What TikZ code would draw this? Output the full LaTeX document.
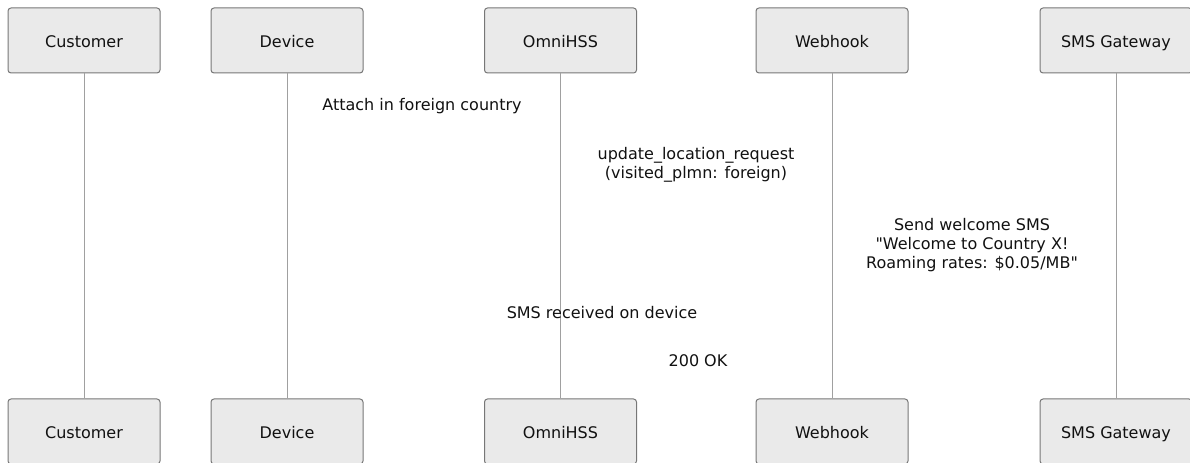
\documentclass[tikz,border=0pt]{standalone}
\usepackage{fontspec}
\setmainfont{DejaVu Sans}[Ligatures=TeXOff]
\definecolor{boxfill}{HTML}{EAEAEA}
\definecolor{boxline}{HTML}{777777}
\definecolor{lifeline}{HTML}{A0A0A0}
\definecolor{txt}{HTML}{111111}
\tikzset{
  actor/.style={draw=boxline, fill=boxfill, rounded corners=2.25pt, line width=0.75pt,
    minimum width=114pt, minimum height=48.75pt, inner sep=0pt, text=txt,
    text height=11pt, text depth=1.2pt,
    font=\fontsize{12}{14.25}\selectfont},
  life/.style={draw=lifeline, line width=0.75pt},
  msg/.style={align=center, text=txt, inner sep=0pt, font=\fontsize{12}{14.25}\selectfont}
}
\begin{document}
\begin{tikzpicture}[x=0.75pt, y=-0.75pt]
\useasboundingbox (0,0) rectangle (1190,463);
% top actors
\node[actor] (c1) at (84,40.5) {Customer};
\node[actor] (d1) at (287,40.5) {Device};
\node[actor] (o1) at (560.5,40.5) {OmniHSS};
\node[actor] (w1) at (832,40.5) {Webhook};
\node[actor] (s1) at (1116,40.5) {SMS Gateway};
% bottom actors
\node[actor] (c2) at (84,431.5) {Customer};
\node[actor] (d2) at (287,431.5) {Device};
\node[actor] (o2) at (560.5,431.5) {OmniHSS};
\node[actor] (w2) at (832,431.5) {Webhook};
\node[actor] (s2) at (1116,431.5) {SMS Gateway};
% lifelines
\draw[life] (c1.south) -- (c2.north);
\draw[life] (d1.south) -- (d2.north);
\draw[life] (o1.south) -- (o2.north);
\draw[life] (w1.south) -- (w2.north);
\draw[life] (s1.south) -- (s2.north);
% messages
\node[msg] (m1) at (422,106) {Attach in foreign country};
\node[msg] (m2) at (696,165) {update\_location\_request\\(visited\_plmn: foreign)};
\node[msg] (m3) at (972,245.5) {Send welcome SMS\\"Welcome to Country X!\\Roaming rates: \$0.05/MB"};
\node[msg] (m4) at (602,313) {SMS received on device};
\node[msg] (m5) at (698,361) {200 OK};
\end{tikzpicture}
\end{document}
